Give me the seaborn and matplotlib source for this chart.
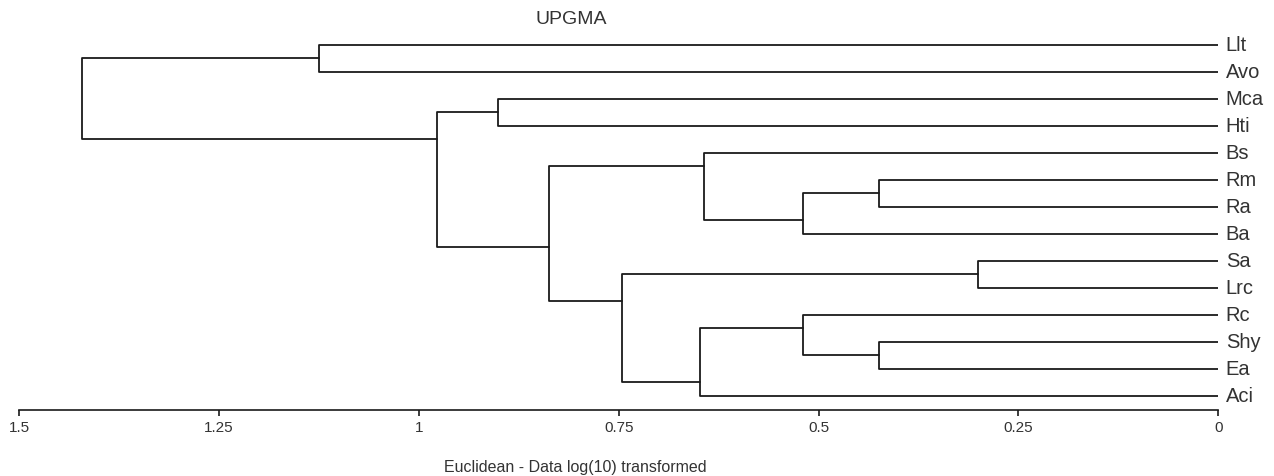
import numpy as np
import pandas as pd
import matplotlib
matplotlib.use("Agg")
import matplotlib.pyplot as plt
import seaborn as sns

# leaves from top to bottom
leaves = ["Llt", "Avo", "Mca", "Hti", "Bs", "Rm", "Ra", "Ba",
          "Sa", "Lrc", "Rc", "Shy", "Ea", "Aci"]

# UPGMA merges: new cluster id = 14 + row; left child is the upper one
merge_left = [8, 5, 11, 15, 10, 4, 18, 14, 19, 2, 23, 0, 25]
merge_right = [9, 6, 12, 7, 16, 17, 13, 20, 21, 3, 22, 1, 24]
merge_height = [0.300, 0.425, 0.425, 0.520, 0.520, 0.643, 0.649,
                0.746, 0.837, 0.901, 0.977, 1.125, 1.422]

ticks = [1.5, 1.25, 1, 0.75, 0.5, 0.25, 0]
tick_labels = ["1.5", "1.25", "1", "0.75", "0.5", "0.25", "0"]

sns.set_style("white")
plt.rcParams["font.family"] = ["Liberation Sans", "DejaVu Sans"]

n = len(leaves)
# for each cluster: height, y where its stem attaches, first/last leaf row
height = {i: 0.0 for i in range(n)}
ypos = {i: float(i) for i in range(n)}
span = {i: (i, i) for i in range(n)}
rows = []
for k, (a, b, h) in enumerate(zip(merge_left, merge_right, merge_height)):
    node = n + k
    height[node] = h
    span[node] = (span[a][0], span[b][1])
    # PAST style: stem sits between last leaf of upper child and first leaf of lower
    ypos[node] = (span[a][1] + span[b][0]) / 2
    pts = [(height[a], ypos[a]), (h, ypos[a]), (h, ypos[b]), (height[b], ypos[b])]
    for j, (x, y) in enumerate(pts):
        rows.append({"node": node, "order": j, "x": x, "y": y})
seg = pd.DataFrame(rows)

fig = plt.figure(figsize=(12.74, 4.77), dpi=100)
ax = fig.add_axes([0.01515, 0.1384, 0.9411, 0.8224])
sns.lineplot(data=seg, x="x", y="y", units="node", estimator=None, sort=False,
             color="#1a1a1a", linewidth=1.3, ax=ax, legend=False)

ax.set_xlim(1.5, 0)
ax.set_ylim(13.53, -1.0)
ax.set_xticks(ticks)
ax.set_xticklabels(tick_labels, fontsize=11, color="#333333")
ax.set_yticks([])
ax.set_xlabel("")
ax.set_ylabel("")
for s in ["top", "left", "right"]:
    ax.spines[s].set_visible(False)
ax.spines["bottom"].set_color("#1a1a1a")
ax.spines["bottom"].set_linewidth(1.2)
ax.tick_params(axis="x", bottom=True, direction="out", length=4, width=1.2,
               color="#1a1a1a", pad=3)

for i, name in enumerate(leaves):
    ax.text(-0.0095, i, name, fontsize=14.5, va="center", ha="left",
            color="#333333", clip_on=False)

fig.text(571 / 1274, 1 - 20 / 477, "UPGMA", fontsize=14, ha="center", va="center",
         color="#333333")
fig.text(575.5 / 1274, 1 - 468 / 477, "Euclidean - Data log(10) transformed",
         fontsize=11.5, ha="center", va="center", color="#333333")

fig.savefig("out.png", dpi=100, facecolor="white")
